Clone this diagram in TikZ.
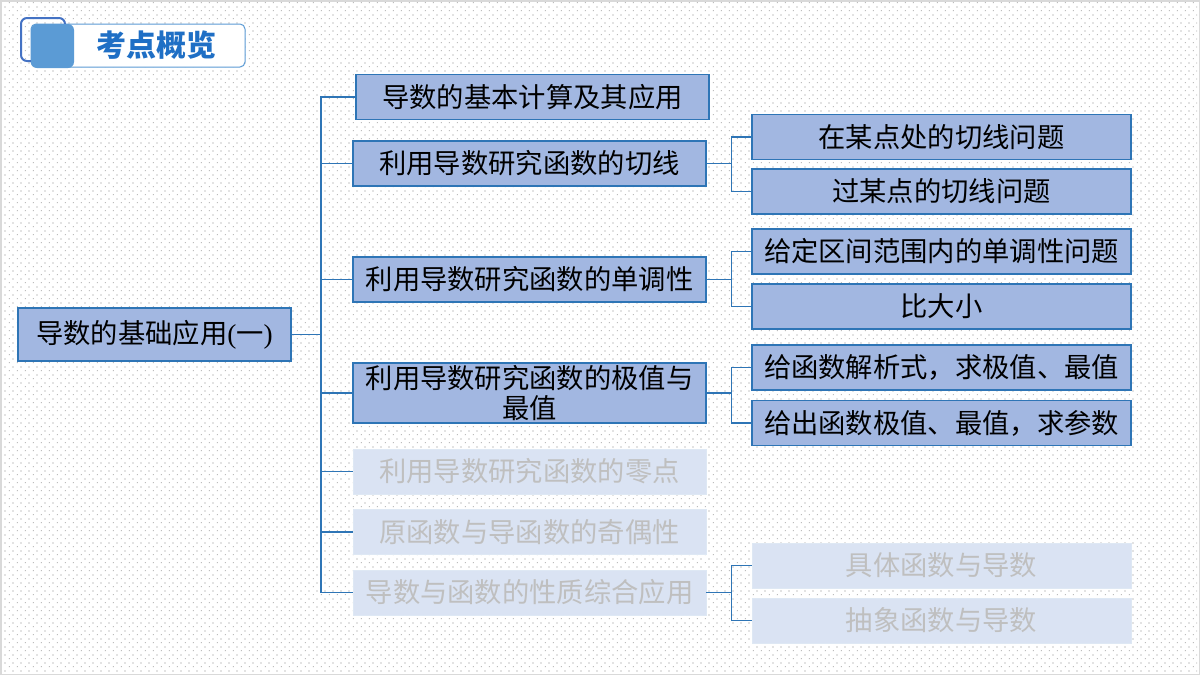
\documentclass[tikz,border=0pt]{standalone}
\usepackage{fontspec}
\setmainfont{Noto Sans CJK SC}
\newfontfamily\tnr{Liberation Serif}
\usetikzlibrary{patterns.meta}
\definecolor{lineblue}{HTML}{2E75B6}
\definecolor{boxfill}{HTML}{A2B7E1}
\definecolor{fadefill}{HTML}{DAE3F3}
\definecolor{fadetext}{HTML}{BFBFBF}
\definecolor{hdrblue}{HTML}{5B9BD5}
\definecolor{hdrdark}{HTML}{4472C4}
\definecolor{hdrtext}{HTML}{1F6FC5}
\definecolor{dotgray}{HTML}{BDBDBD}
\definecolor{framegray}{HTML}{D9D9D9}
\tikzdeclarepattern{
  name=bgdots,
  type=uncolored,
  bottom left={(0pt,0pt)},
  top right={(8pt,8pt)},
  tile size={(8pt,8pt)},
  code={
    \fill (1pt,1pt) rectangle (2.2pt,2.2pt);
    \fill (5pt,5pt) rectangle (6.2pt,6.2pt);
  }
}
\tikzset{
  conn/.style={draw=lineblue, line width=1.4pt},
  basebox/.style={minimum height=45, inner sep=0pt, align=center,
    font=\fontsize{27.3}{30}\selectfont},
  mainbox/.style={basebox, draw=lineblue, line width=1.3pt, fill=boxfill,
    text=black, minimum width=353},
  subbox/.style={mainbox, minimum width=379},
  fadebox/.style={basebox, fill=fadefill, draw=fadefill!90!lineblue!60, line width=0.6pt,
    text=fadetext, minimum width=353},
  fadesub/.style={fadebox, minimum width=379},
}
\begin{document}
\begin{tikzpicture}[x=1pt,y=-1pt]
\useasboundingbox (0,0) rectangle (1200,675);
\fill[white] (0,0) rectangle (1200,675);
\fill[pattern=bgdots, pattern color=dotgray] (2,2) rectangle (1197,672);
\draw[framegray, line width=1.5pt] (0.75,0.75) rectangle (1199.25,674.25);

% header
\draw[hdrblue, fill=white, line width=1pt, rounded corners=5] (31,24) rectangle (245,67);
\draw[hdrdark, line width=2pt, rounded corners=6] (21,18) rectangle (65,61);
\fill[hdrblue, rounded corners=6] (31,24) rectangle (74,68);
\node[font=\fontsize{30}{32}\selectfont\bfseries, text=hdrtext] (hdr) at (156,45) {考点概览};

% root
\node[mainbox, minimum width=273, minimum height=53] (root) at (154.5,334.5)
  {导数的基础应用{\tnr(}一{\tnr)}};

% level 1
\node[mainbox] (A) at (532.5,97) {导数的基本计算及其应用};
\node[mainbox] (B) at (529.5,163.5) {利用导数研究函数的切线};
\node[mainbox] (C) at (529.5,279.5) {利用导数研究函数的单调性};
\node[mainbox, minimum height=60] (D) at (529.5,393) {利用导数研究函数的极值与\\最值};
\node[fadebox] (E) at (529.5,471.5) {利用导数研究函数的零点};
\node[fadebox] (F) at (529.5,532) {原函数与导函数的奇偶性};
\node[fadebox] (G) at (529.5,592.5) {导数与函数的性质综合应用};

% level 2
\node[subbox] (B1) at (941.5,137) {在某点处的切线问题};
\node[subbox] (B2) at (941.5,191.5) {过某点的切线问题};
\node[subbox] (C1) at (941.5,251.5) {给定区间范围内的单调性问题};
\node[subbox] (C2) at (941.5,306.5) {比大小};
\node[subbox] (D1) at (941.5,367.5) {给函数解析式，求极值、最值};
\node[subbox] (D2) at (941.5,423) {给出函数极值、最值，求参数};
\node[fadesub] (G1) at (941.5,565.5) {具体函数与导数};
\node[fadesub] (G2) at (941.5,620.5) {抽象函数与导数};

% connectors
\coordinate (trunk) at (321,334.5);
\draw[conn] (root.east) -- (trunk);
\foreach \n in {A,B,C,D,E,F,G}{
  \draw[conn] (trunk) |- (\n.west);
}
\foreach \p/\a/\b in {B/B1/B2, C/C1/C2, D/D1/D2, G/G1/G2}{
  \draw[conn] (\p.east) -- ++(25,0) |- (\a.west);
  \draw[conn] (\p.east) -- ++(25,0) |- (\b.west);
}
\end{tikzpicture}
\end{document}
